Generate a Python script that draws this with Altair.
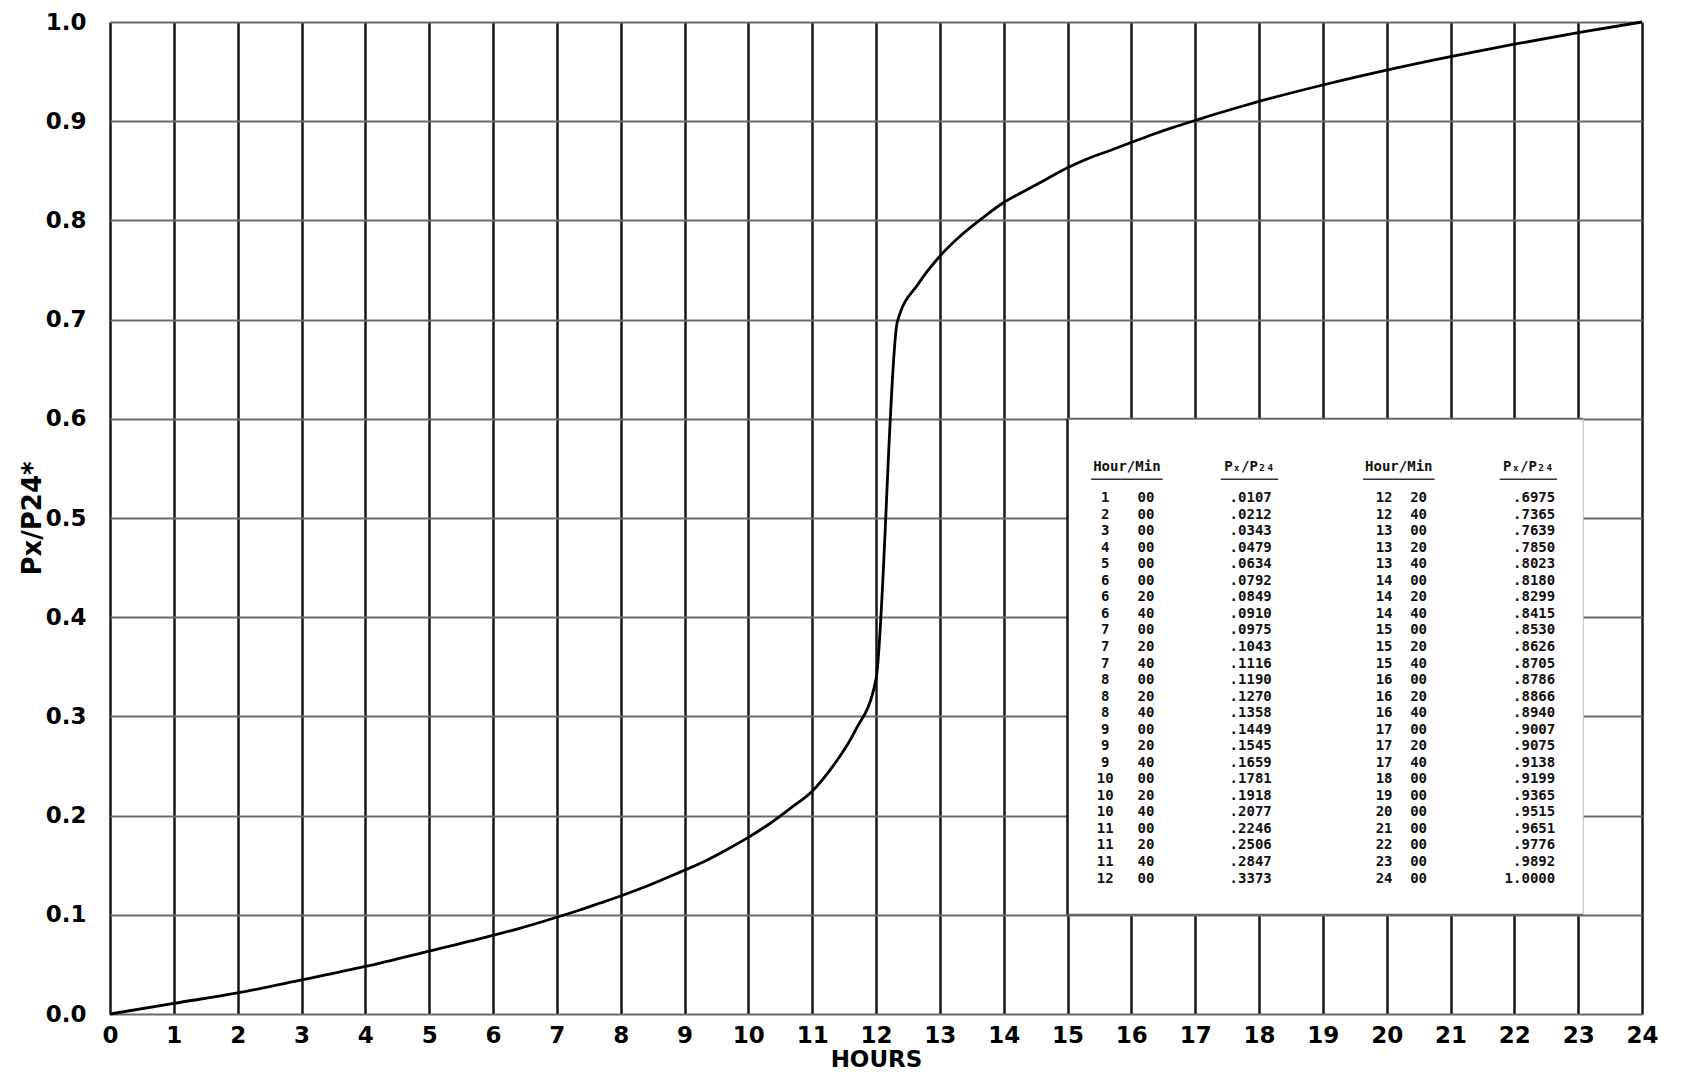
import altair as alt
import pandas as pd

# ---------------- data ----------------
hour_ticks = list(range(25))
frac_ticks = [round(i * 0.1, 1) for i in range(11)]

col1_hour = [1, 2, 3, 4, 5, 6, 6, 6, 7, 7, 7, 8, 8, 8, 9, 9, 9, 10, 10, 10, 11, 11, 11, 12]
col1_min = [0, 0, 0, 0, 0, 0, 20, 40, 0, 20, 40, 0, 20, 40, 0, 20, 40, 0, 20, 40, 0, 20, 40, 0]
col1_val = [.0107, .0212, .0343, .0479, .0634, .0792, .0849, .0910, .0975, .1043, .1116, .1190,
            .1270, .1358, .1449, .1545, .1659, .1781, .1918, .2077, .2246, .2506, .2847, .3373]

col2_hour = [12, 12, 13, 13, 13, 14, 14, 14, 15, 15, 15, 16, 16, 16, 17, 17, 17, 18, 19, 20, 21, 22, 23, 24]
col2_min = [20, 40, 0, 20, 40, 0, 20, 40, 0, 20, 40, 0, 20, 40, 0, 20, 40, 0, 0, 0, 0, 0, 0, 0]
col2_val = [.6975, .7365, .7639, .7850, .8023, .8180, .8299, .8415, .8530, .8626, .8705, .8786,
            .8866, .8940, .9007, .9075, .9138, .9199, .9365, .9515, .9651, .9776, .9892, 1.0000]

header_time = "Hour/Min"
header_ratio = "Pₓ/P₂₄"

# ---------------- layout (data units) ----------------
box_x, box_x2, box_y, box_y2 = 15.0, 23.08, 0.1, 0.6
row0_y, row_step, header_y = 0.520, 0.01667, 0.551
c1 = dict(hour=15.59, minute=16.23, value=18.20, h_time=15.93, h_ratio=17.85)
c2 = dict(hour=19.96, minute=20.50, value=22.64, h_time=20.19, h_ratio=22.22)

FONT = "DejaVu Sans"
MONO = "DejaVu Sans Mono"

# ---------------- frames ----------------
times = [0.0] + [h + m / 60 for h, m in zip(col1_hour + col2_hour, col1_min + col2_min)]
vals = [0.0] + col1_val + col2_val
curve = pd.DataFrame({"t": times, "v": vals})


def fmt_val(v):
    s = f"{v:.4f}"
    return s[1:] if s.startswith("0") else s


rows = []
for hs, ms, vs, c in [(col1_hour, col1_min, col1_val, c1), (col2_hour, col2_min, col2_val, c2)]:
    for i, (h, m, v) in enumerate(zip(hs, ms, vs)):
        y = row0_y - i * row_step
        rows.append({"x": c["hour"], "y": y, "txt": str(h), "al": "center"})
        rows.append({"x": c["minute"], "y": y, "txt": f"{m:02d}", "al": "center"})
        rows.append({"x": c["value"], "y": y, "txt": fmt_val(v), "al": "right"})
table = pd.DataFrame(rows)

headers = pd.DataFrame([
    {"x": c1["h_time"], "y": header_y, "txt": header_time, "w": 0.56},
    {"x": c1["h_ratio"], "y": header_y, "txt": header_ratio, "w": 0.45},
    {"x": c2["h_time"], "y": header_y, "txt": header_time, "w": 0.56},
    {"x": c2["h_ratio"], "y": header_y, "txt": header_ratio, "w": 0.45},
])
headers["x1"] = headers["x"] - headers["w"]
headers["x2"] = headers["x"] + headers["w"]
headers["yu"] = headers["y"] - 0.012

box = pd.DataFrame([{"x": box_x, "x2": box_x2, "y": box_y, "y2": box_y2}])
edges = pd.DataFrame([
    {"x": box_x, "x2": box_x, "y": box_y, "y2": box_y2, "c": "#151515", "w": 2.5},
    {"x": box_x, "x2": box_x2, "y": box_y2, "y2": box_y2, "c": "#666666", "w": 2.0},
    {"x": box_x, "x2": box_x2, "y": box_y, "y2": box_y, "c": "#666666", "w": 2.0},
    {"x": box_x2, "x2": box_x2, "y": box_y, "y2": box_y2, "c": "#bbbbbb", "w": 1.0},
])

xscale = alt.Scale(domain=[0, 24], nice=False, zero=False)
yscale = alt.Scale(domain=[0, 1], nice=False)

xaxis = alt.Axis(values=hour_ticks, format="d", title="HOURS", grid=True, gridColor="#151515",
                 gridWidth=2.5, gridOpacity=1, ticks=False, domain=False, labelFont=FONT,
                 labelFontSize=23, labelFontWeight="bold", labelColor="black", labelPadding=10,
                 titleFont=FONT, titleFontSize=23, titleFontWeight="bold", titleColor="black",
                 titlePadding=1, labelFlush=False)
yaxis = alt.Axis(values=frac_ticks, format=".1f", title="Px/P24*", grid=True, gridColor="#6a6a6a",
                 gridWidth=2, gridOpacity=1, ticks=False, domain=False, labelFont=FONT,
                 labelFontSize=23, labelFontWeight="bold", labelColor="black", labelPadding=24,
                 titleFont=FONT, titleFontSize=26, titleFontWeight="bold", titleColor="black",
                 titlePadding=0, labelFlush=False)

line = alt.Chart(curve).mark_line(color="black", strokeWidth=2.8, interpolate="monotone").encode(
    x=alt.X("t:Q", scale=xscale, axis=xaxis),
    y=alt.Y("v:Q", scale=yscale, axis=yaxis),
)

rect = alt.Chart(box).mark_rect(color="white", opacity=1).encode(
    x="x:Q", x2="x2:Q", y="y:Q", y2="y2:Q")

edge = alt.Chart(edges).mark_rule().encode(
    x="x:Q", x2="x2:Q", y="y:Q", y2="y2:Q",
    color=alt.Color("c:N", scale=None), strokeWidth=alt.StrokeWidth("w:Q", scale=None))

txt_c = alt.Chart(table[table["al"] == "center"]).mark_text(
    font=MONO, fontSize=14, fontWeight="bold", color="#111", align="center", baseline="middle"
).encode(x="x:Q", y="y:Q", text="txt:N")
txt_r = alt.Chart(table[table["al"] == "right"]).mark_text(
    font=MONO, fontSize=14, fontWeight="bold", color="#111", align="right", baseline="middle"
).encode(x="x:Q", y="y:Q", text="txt:N")

head = alt.Chart(headers).mark_text(
    font=MONO, fontSize=14, fontWeight="bold", color="#111", align="center", baseline="middle"
).encode(x="x:Q", y="y:Q", text="txt:N")
under = alt.Chart(headers).mark_rule(color="#333", strokeWidth=1.5).encode(
    x="x1:Q", x2="x2:Q", y="yu:Q")

chart = alt.layer(rect, edge, line, txt_c, txt_r, head, under).properties(
    width=1532, height=992,
    autosize=alt.AutoSizeParams(type="none"),
    padding={"left": 102, "top": 14, "right": 30, "bottom": 64},
    background="white",
).configure_view(strokeWidth=0)

chart.save("out.html", embed_options={"renderer": "svg", "actions": False})
